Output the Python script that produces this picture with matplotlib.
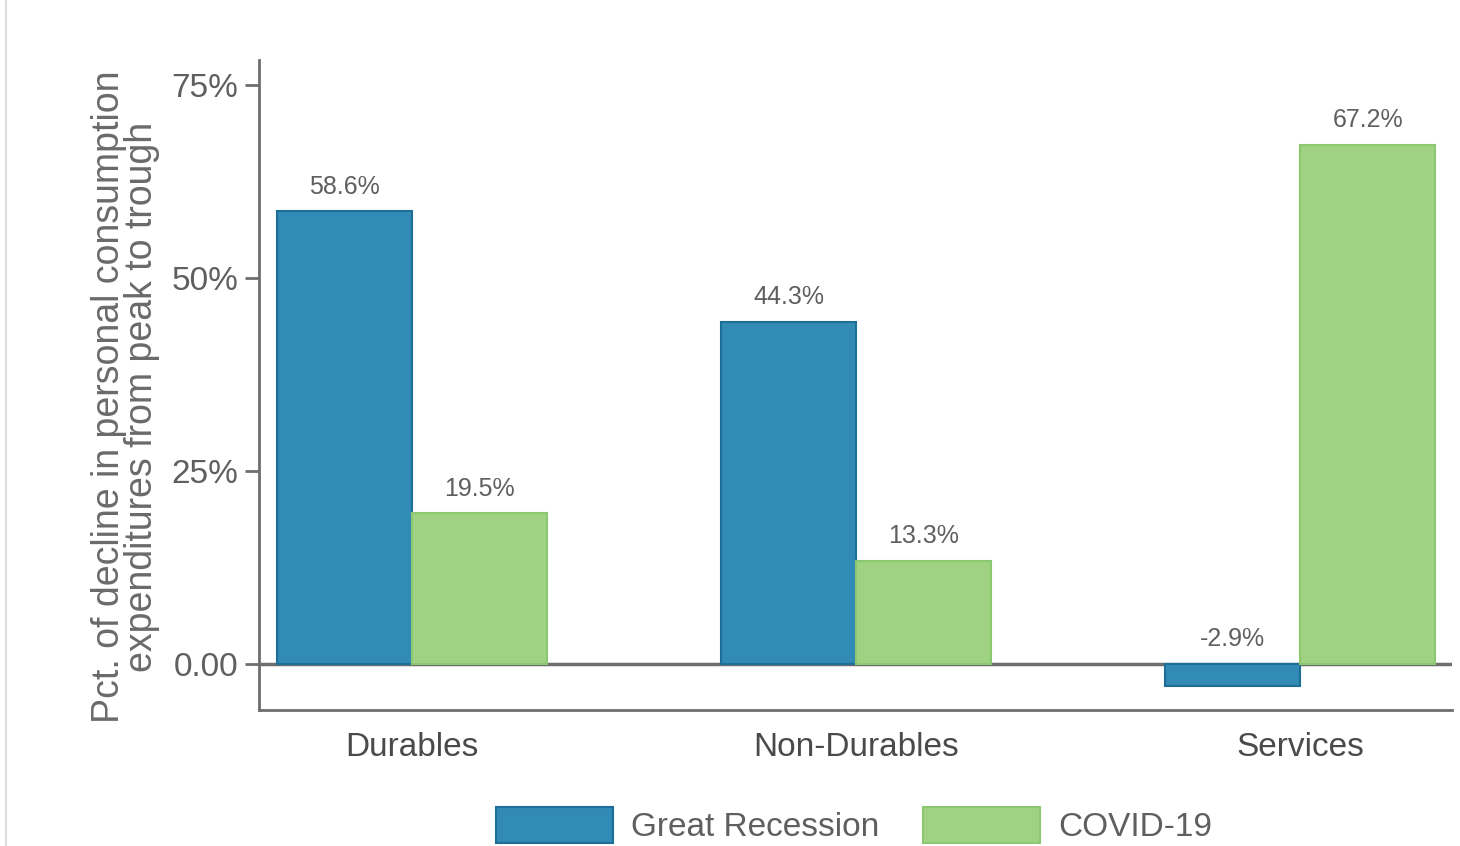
import matplotlib.pyplot as plt
from matplotlib.patches import Patch
from matplotlib.lines import Line2D
import numpy as np

plt.rcParams['font.family'] = ['Liberation Sans', 'DejaVu Sans']

categories = ["Durables", "Non-Durables", "Services"]
great_recession = [58.6, 44.3, -2.9]
covid = [19.5, 13.3, 67.2]
series_names = ["Great Recession", "COVID-19"]
ytick_vals = [0, 25, 50, 75]
ytick_labels = ["0.00", "25%", "50%", "75%"]

blue = "#328bb5"
blue_edge = "#1d6e98"
green = "#a0d283"
green_edge = "#8cc870"
grey_txt = "#5f5f5f"
grey_line = "#6e6e6e"

fig = plt.figure(figsize=(14.6, 8.46), dpi=100)
ax = fig.add_axes([0.1774, 0.1608, 0.8171, 0.7682])

x = np.arange(len(categories))
w = 0.304
b1 = ax.bar(x - w / 2, great_recession, w, color=blue, edgecolor=blue_edge, linewidth=1.5, zorder=2)
b2 = ax.bar(x + w / 2, covid, w, color=green, edgecolor=green_edge, linewidth=1.5, zorder=2)

for bars, vals in ((b1, great_recession), (b2, covid)):
    for r, v in zip(bars, vals):
        ax.annotate(f"{v}%", (r.get_x() + r.get_width() / 2, max(v, 0)),
                    xytext=(0, 9), textcoords="offset points",
                    ha="center", va="bottom", fontsize=18, color=grey_txt)

ax.axhline(0, color=grey_line, linewidth=2.5, zorder=1)

ax.set_xlim(-0.345, 2.342)
ax.set_ylim(-6.0, 78.2)
ax.set_yticks(ytick_vals)
ax.set_yticklabels(ytick_labels)
ax.set_xticks(x)
ax.set_xticklabels(categories)
ax.tick_params(axis="y", length=10, width=2, color=grey_line, labelsize=24, labelcolor=grey_txt, pad=5)
ax.tick_params(axis="x", length=0, labelsize=24, labelcolor="#4a4a4a", pad=16)

for s in ("top", "right"):
    ax.spines[s].set_visible(False)
for s in ("left", "bottom"):
    ax.spines[s].set_color(grey_line)
    ax.spines[s].set_linewidth(2)

ax.set_ylabel("Pct. of decline in personal consumption\nexpenditures from peak to trough",
              fontsize=27, color="#6a6a6a", linespacing=0.88)
ax.yaxis.set_label_coords(-0.083, 0.482)

handles = [Patch(facecolor=blue, edgecolor=blue_edge, linewidth=1.5),
           Patch(facecolor=green, edgecolor=green_edge, linewidth=1.5)]
fig.legend(handles, series_names, loc="upper center", bbox_to_anchor=(0.585, 0.066),
           ncol=2, frameon=False, fontsize=24, handlelength=3.5, handleheight=1.3,
           handletextpad=0.55, columnspacing=1.3, borderpad=0, labelcolor=grey_txt)

fig.add_artist(Line2D([0.004, 0.004], [0, 1], color="#dddddd", linewidth=1.5))

fig.savefig("out.png", dpi=100)
